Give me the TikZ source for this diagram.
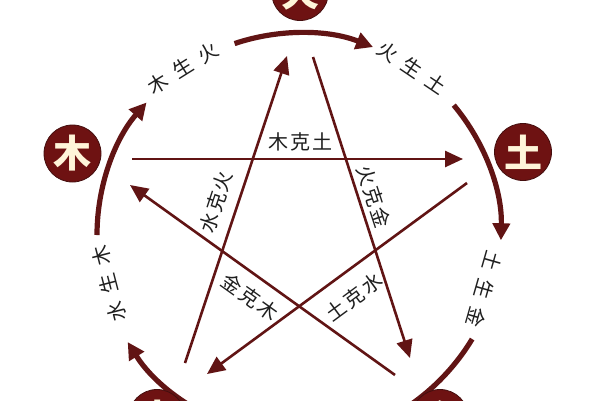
\documentclass[tikz,border=0pt]{standalone}
\usepackage{fontspec}
\newfontfamily\cjk{Noto Sans CJK SC}
\usetikzlibrary{arrows.meta}

\definecolor{wxlinecolor}{rgb}{0.380000, 0.080000, 0.080000}
\definecolor{wxfillcolor}{rgb}{0.430000, 0.070000, 0.070000}
\definecolor{wxtextcolor}{rgb}{0.120000, 0.120000, 0.120000}
\definecolor{wxcharcolor}{rgb}{1.000000, 0.960000, 0.850000}
\newcommand{\shenggap}{\hspace{9pt}}
\newcommand{\kegap}{\hspace{2pt}}

\begin{document}
\begin{tikzpicture}[x=1pt,y=-1pt,
  elemnode/.style={circle,minimum size=57pt,inner sep=0pt,fill=wxfillcolor,draw=wxlinecolor!70!black,line width=0.8pt,text=wxcharcolor,font=\cjk\bfseries\fontsize{38}{38}\selectfont},
  shengline/.style={draw=wxlinecolor,line width=5.2pt,-{Triangle[length=17pt,width=17pt]}},
  keline/.style={draw=wxlinecolor,line width=2.6pt,-{Triangle[length=18pt,width=16pt]}},
  shenglabel/.style={text=wxtextcolor,inner sep=0pt,font=\cjk\fontsize{20}{20}\selectfont},
  kelabel/.style={text=wxtextcolor,inner sep=0pt,font=\cjk\fontsize{20}{20}\selectfont}]
\useasboundingbox (0,0) rectangle (600,400);
\fill[white] (0,0) rectangle (600,400);

% generating cycle
\coordinate (wx-c) at (299,235);
\draw[shengline] ([shift={(-180:202)}]wx-c) arc[start angle=-180,end angle=-139,radius=202];
\draw[shengline] ([shift={(-108.6:202)}]wx-c) arc[start angle=-108.6,end angle=-68.5,radius=202];
\draw[shengline] ([shift={(-40:202)}]wx-c) arc[start angle=-40,end angle=1.5,radius=202];
\draw[shengline] ([shift={(31:202)}]wx-c) arc[start angle=31,end angle=74,radius=202];
\draw[shengline] ([shift={(106:202)}]wx-c) arc[start angle=106,end angle=148,radius=202];

\node[shenglabel,rotate=32] (mu-sheng-huo) at (183,68) {木\shenggap{}生\shenggap{}火};
\node[shenglabel,rotate=-34] (huo-sheng-tu) at (412,68) {火\shenggap{}生\shenggap{}土};
\node[shenglabel,rotate=-106] (tu-sheng-jin) at (484,289) {土\shenggap{}生\shenggap{}金};
\node[shenglabel,rotate=104.5] (shui-sheng-mu) at (109,284) {水\shenggap{}生\shenggap{}木};

% controlling cycle
\coordinate (mkt-s) at (132,159);
\coordinate (mkt-e) at (463,159);
\coordinate (hkj-s) at (313,57);
\coordinate (hkj-e) at (410,358);
\coordinate (tks-s) at (467,183);
\coordinate (tks-e) at (207,374);
\coordinate (jkm-s) at (395,375);
\coordinate (jkm-e) at (130,185);
\coordinate (skh-s) at (185,363);
\coordinate (skh-e) at (287,56);
\draw[keline] (mkt-s) -- (mkt-e);
\draw[keline] (hkj-s) -- (hkj-e);
\draw[keline] (tks-s) -- (tks-e);
\draw[keline] (jkm-s) -- (jkm-e);
\draw[keline] (skh-s) -- (skh-e);

\node[kelabel] (mkt-l) at (300,142) {木\kegap{}克\kegap{}土};
\node[kelabel,rotate=-72] (hkj-l) at (374,197) {火\kegap{}克\kegap{}金};
\node[kelabel,rotate=36.4] (tks-l) at (354,297) {土\kegap{}克\kegap{}水};
\node[kelabel,rotate=-35.6] (jkm-l) at (250,297) {金\kegap{}克\kegap{}木};
\node[kelabel,rotate=71.6] (skh-l) at (216,202) {水\kegap{}克\kegap{}火};

% elements
\node[elemnode] (huo) at (300,-8) {火};
\node[elemnode] (tu) at (523,152) {土};
\node[elemnode] (jin) at (440,418) {金};
\node[elemnode] (shui) at (157,418) {水};
\node[elemnode] (mu) at (72.5,153.5) {木};
\end{tikzpicture}
\end{document}
